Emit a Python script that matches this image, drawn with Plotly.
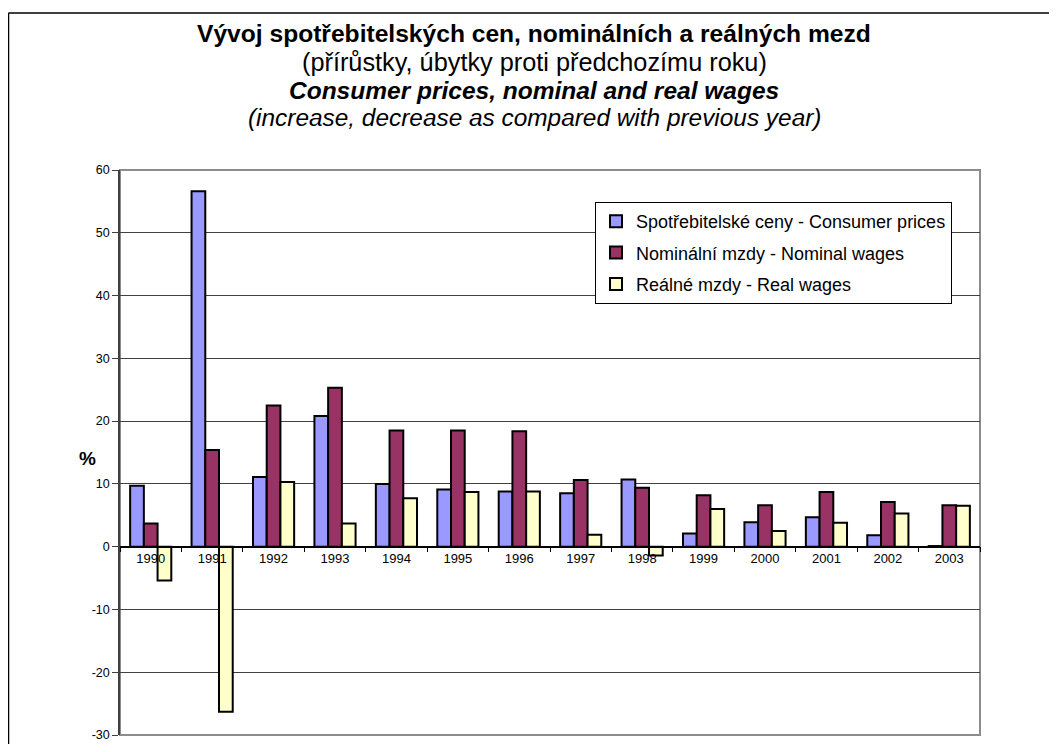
import plotly.graph_objects as go

years = ["1990", "1991", "1992", "1993", "1994", "1995", "1996",
         "1997", "1998", "1999", "2000", "2001", "2002", "2003"]
consumer_prices = [9.7, 56.6, 11.1, 20.8, 10.0, 9.1, 8.8, 8.5, 10.7, 2.1, 3.9, 4.7, 1.8, 0.1]
nominal_wages = [3.7, 15.4, 22.5, 25.3, 18.5, 18.5, 18.4, 10.6, 9.4, 8.2, 6.6, 8.7, 7.1, 6.6]
real_wages = [-5.4, -26.3, 10.3, 3.7, 7.7, 8.7, 8.8, 1.9, -1.4, 6.0, 2.5, 3.8, 5.3, 6.5]
y_ticks = [-30, -20, -10, 0, 10, 20, 30, 40, 50, 60]
y_tick_labels = ["-30", "-20", "-10", "0", "10", "20", "30", "40", "50", "60"]

# page has an 8px body margin, so figure coords = page coords - 8
OFF = 8
W, H = 1041, 736
L, R, T, B = 120 - OFF, 980 - OFF, 170 - OFF, 735 - OFF
FONT = "Arial, Liberation Sans, sans-serif"


def px_x(x):
    return (x - OFF - L) / (R - L)


def px_y(y):
    return (B - (y - OFF)) / (B - T)


fig = go.Figure()
series = [
    ("Spotřebitelské ceny - Consumer prices", consumer_prices, "#9999FF"),
    ("Nominální mzdy - Nominal wages", nominal_wages, "#993366"),
    ("Reálné mzdy - Real wages", real_wages, "#FFFFCC"),
]
for name, vals, col in series:
    fig.add_trace(go.Bar(
        x=years, y=vals, name=name, legendgroup=name,
        marker=dict(color=col, line=dict(color="black", width=2)),
    ))

titles = [
    ("<b>Vývoj spotřebitelských cen, nominálních a reálných mezd</b>", 34, 24.6),
    ("(přírůstky, úbytky proti předchozímu roku)", 62, 25.3),
    ("<b><i>Consumer prices, nominal and real wages</i></b>", 90, 24.5),
    ("<i>(increase, decrease as compared with previous year)</i>", 117, 24.4),
]
for txt, ypx, fs in titles:
    fig.add_annotation(text=txt, x=px_x(534), y=px_y(ypx), xref="paper", yref="paper",
                       showarrow=False, xanchor="center", yanchor="middle",
                       font=dict(family=FONT, size=fs, color="black"))

fig.add_annotation(text="<b>%</b>", x=px_x(77), y=px_y(458), xref="paper", yref="paper",
                   showarrow=False, font=dict(family=FONT, size=19, color="black"))

# outer frame (top and left edges) and plot frame
fig.add_shape(type="line", xref="paper", yref="paper",
              x0=px_x(8.5), x1=px_x(1060), y0=px_y(13), y1=px_y(13),
              line=dict(color="black", width=1.5))
fig.add_shape(type="line", xref="paper", yref="paper",
              x0=px_x(8.5), x1=px_x(8.5), y0=px_y(13), y1=px_y(760),
              line=dict(color="black", width=1.5))
fig.add_shape(type="rect", xref="paper", yref="paper",
              x0=0, x1=1, y0=0, y1=1,
              line=dict(color="#8c8c8c", width=2), layer="below")

fig.update_layout(
    width=W, height=H,
    margin=dict(l=L, r=W - R, t=T, b=H - B, pad=0, autoexpand=False),
    paper_bgcolor="white", plot_bgcolor="white",
    barmode="group", bargap=0.33, bargroupgap=0,
    font=dict(family=FONT, color="black"),
    showlegend=True,
    legend=dict(x=px_x(595), y=px_y(202), xanchor="left", yanchor="top",
                bgcolor="white", bordercolor="black", borderwidth=1,
                font=dict(family=FONT, size=18), tracegroupgap=5,
                itemwidth=30),
    xaxis=dict(type="category", anchor="free", position=1 / 3, automargin=False,
               showline=True, linecolor="black", linewidth=1.5,
               ticks="outside", tickson="boundaries", ticklen=5, tickcolor="black",
               tickfont=dict(size=13), showgrid=False),
    yaxis=dict(range=[-30, 60], tickvals=y_ticks, ticktext=y_tick_labels, automargin=False,
               showgrid=True, gridcolor="#404040", gridwidth=1,
               zeroline=False, showline=True, linecolor="#404040", linewidth=1.5,
               ticks="outside", ticklen=6, tickcolor="#404040",
               tickfont=dict(size=12.5)),
)

fig.write_html("out.html")
